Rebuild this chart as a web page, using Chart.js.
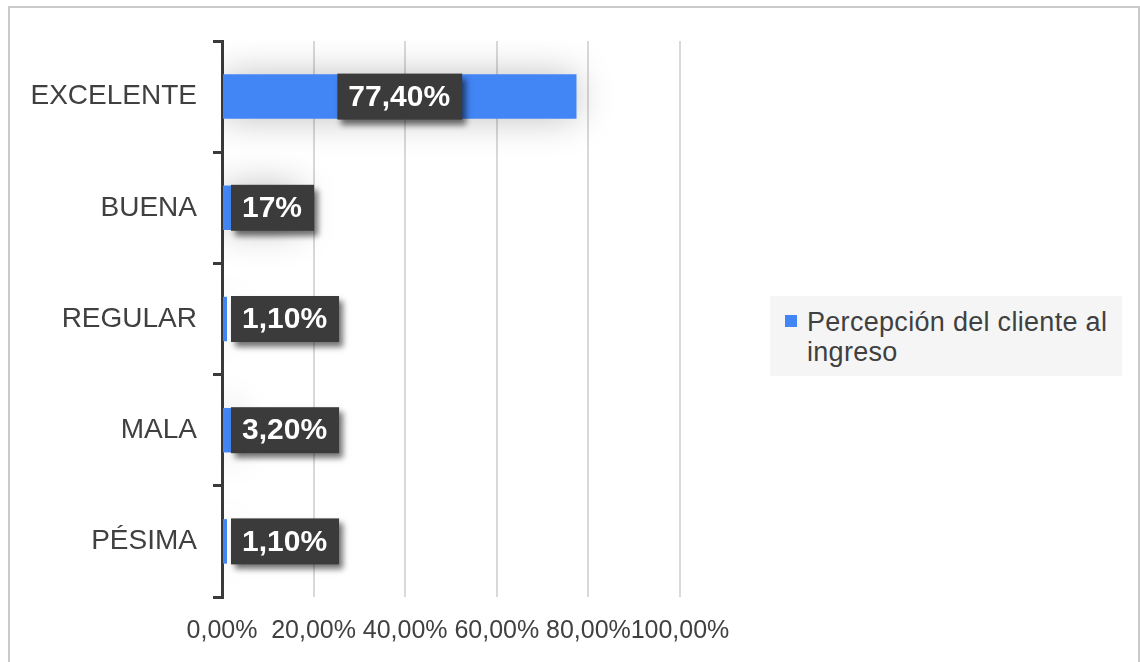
<!DOCTYPE html>
<html>
<head>
<meta charset="utf-8">
<script src="https://cdn.jsdelivr.net/npm/chart.js@4/dist/chart.umd.min.js"></script>
<style>
  html, body { margin: 0; padding: 0; background: #fff; }
  #wrap { position: relative; width: 1140px; height: 662px; overflow: hidden; }
  #frame { position: absolute; left: 8px; top: 6px; width: 1128px; height: 700px;
           border: 2px solid #cacaca; pointer-events: none; }
  #legend { position: absolute; left: 770px; top: 296px; width: 352px; height: 80px;
            background: #f5f5f5; font-family: "Liberation Sans", Arial, sans-serif;
            font-size: 27px; line-height: 30px; letter-spacing: 0.3px; color: #404040; }
  #legend .box { position: absolute; left: 15px; top: 19px; width: 12px; height: 12px; }
  #legend .txt { position: absolute; left: 37px; top: 11px; width: 312px; }
</style>
</head>
<body>
<div id="wrap">
  <canvas id="chart" width="1140" height="662"></canvas>
  <div id="frame"></div>
  <div id="legend"><span class="box"></span><span class="txt"></span></div>
</div>
<script>
const categories = ['EXCELENTE', 'BUENA', 'REGULAR', 'MALA', 'PÉSIMA'];
const values = [77.4, 17, 1.1, 3.2, 1.1];
const seriesName = 'Percepción del cliente al ingreso';
const xTicks = [0, 20, 40, 60, 80, 100];

const barColor = '#4285F4';
const textColor = '#404040';

const pct = (v) => Number.isInteger(v) ? v + '%' : v.toFixed(2).replace('.', ',') + '%';

// soft halo behind the bars
const barShadow = {
    id: 'barShadow',
    beforeDatasetsDraw(chart) {
        const ctx = chart.ctx;
        ctx.save();
        ctx.shadowColor = 'rgba(0,0,0,0.25)';
        ctx.shadowBlur = 36;
    },
    afterDatasetsDraw(chart) {
        chart.ctx.restore();
    }
};

// dark value boxes, centred on the bar but kept inside the plot
const valueBoxes = {
    id: 'valueBoxes',
    afterDatasetsDraw(chart) {
        const ctx = chart.ctx;
        const area = chart.chartArea;
        const meta = chart.getDatasetMeta(0);
        ctx.save();
        ctx.font = 'bold 30px "Liberation Sans", Arial, sans-serif';
        ctx.textBaseline = 'middle';
        ctx.textAlign = 'left';
        meta.data.forEach((bar, i) => {
            const text = pct(values[i]);
            const w = ctx.measureText(text).width + 23;
            const h = 46;
            let x = (bar.base + bar.x) / 2 - w / 2;
            if (x < area.left + 9) x = area.left + 9;
            const y = bar.y - h / 2;
            ctx.shadowColor = 'rgba(0,0,0,0.55)';
            ctx.shadowBlur = 6;
            ctx.shadowOffsetX = 4;
            ctx.shadowOffsetY = 5;
            ctx.fillStyle = '#3b3b3b';
            ctx.fillRect(x, y, w, h);
            ctx.shadowColor = 'transparent';
            ctx.fillStyle = '#fff';
            ctx.fillText(text, x + 11, bar.y + 1);
        });
        ctx.restore();
    }
};

document.querySelector('#legend .box').style.background = barColor;
document.querySelector('#legend .txt').textContent = seriesName;

new Chart(document.getElementById('chart'), {
    type: 'bar',
    data: {
        labels: categories,
        datasets: [{
            label: seriesName,
            data: values,
            backgroundColor: barColor,
            borderWidth: 0,
            barPercentage: 0.4,
            categoryPercentage: 1
        }]
    },
    options: {
        indexAxis: 'y',
        responsive: false,
        animation: false,
        layout: { padding: { top: 41, right: 460, left: 0, bottom: 0 } },
        scales: {
            x: {
                min: 0,
                max: 100,
                afterBuildTicks: (scale) => { scale.ticks = xTicks.map(v => ({ value: v })); },
                afterFit: (scale) => { scale.height = 65; },
                grid: { color: '#d9d9d9', lineWidth: 2, drawTicks: false },
                border: { display: false },
                ticks: {
                    callback: (v) => v.toFixed(2).replace('.', ',') + '%',
                    color: textColor,
                    padding: 19,
                    maxRotation: 0,
                    autoSkip: false,
                    font: { family: '"Liberation Sans", Arial, sans-serif', size: 25 }
                }
            },
            y: {
                afterFit: (scale) => { scale.width = 222; },
                grid: { drawOnChartArea: false, offset: true, tickLength: 9, color: '#3a3a3a', lineWidth: 3 },
                border: { color: '#3a3a3a', width: 3 },
                ticks: {
                    color: textColor,
                    padding: 16,
                    font: { family: '"Liberation Sans", Arial, sans-serif', size: 28 }
                }
            }
        },
        plugins: {
            legend: { display: false },
            tooltip: { enabled: false }
        }
    },
    plugins: [barShadow, valueBoxes]
});
</script>
</body>
</html>
